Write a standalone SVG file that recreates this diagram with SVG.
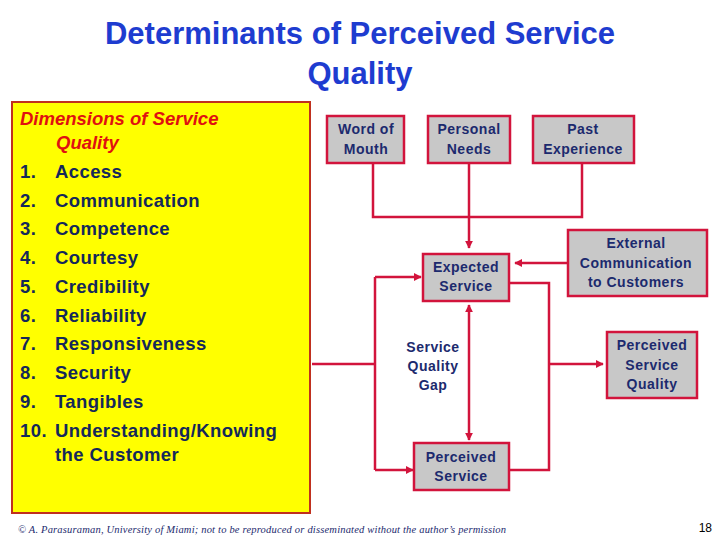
<svg xmlns="http://www.w3.org/2000/svg" width="720" height="540" viewBox="0 0 720 540">
<defs>
<style>
.box{fill:#c8c8c8;stroke:#d2143c;stroke-width:2.5}
.bt{font-family:"Liberation Sans",Arial,sans-serif;font-size:14px;font-weight:bold;fill:#1c2a6e;text-anchor:middle;letter-spacing:0.5px}
.ln{fill:none;stroke:#d2143c;stroke-width:2.5}
.li{font-family:"Liberation Sans",Arial,sans-serif;font-size:18.5px;font-weight:bold;fill:#14285a;letter-spacing:0.4px}
</style>
<marker id="ah" viewBox="0 0 10 10" refX="9" refY="5" markerWidth="3.2" markerHeight="3.2" orient="auto-start-reverse"><path d="M0,0L10,5L0,10z" fill="#d2143c"/></marker>
</defs>
<rect width="720" height="540" fill="#fff"/>
<g id="title" font-family="Liberation Sans,Arial,sans-serif" font-size="31" font-weight="bold" fill="#1e3cd0" text-anchor="middle">
<text x="360" y="44">Determinants of Perceived Service</text>
<text x="360" y="84">Quality</text>
</g>
<g id="dimensions">
<rect x="12" y="102" width="298" height="411" fill="#ffff00" stroke="#c0301e" stroke-width="2"/>
<text x="20" y="125" font-family="Liberation Sans,Arial,sans-serif" font-size="18.5" font-weight="bold" font-style="italic" fill="#e01010">Dimensions of Service</text>
<text x="56" y="149" font-family="Liberation Sans,Arial,sans-serif" font-size="18.5" font-weight="bold" font-style="italic" fill="#e01010">Quality</text>
<text class="li" x="20" y="178">1.</text><text class="li" x="55" y="178">Access</text>
<text class="li" x="20" y="207">2.</text><text class="li" x="55" y="207">Communication</text>
<text class="li" x="20" y="235">3.</text><text class="li" x="55" y="235">Competence</text>
<text class="li" x="20" y="264">4.</text><text class="li" x="55" y="264">Courtesy</text>
<text class="li" x="20" y="293">5.</text><text class="li" x="55" y="293">Credibility</text>
<text class="li" x="20" y="322">6.</text><text class="li" x="55" y="322">Reliability</text>
<text class="li" x="20" y="350">7.</text><text class="li" x="55" y="350">Responsiveness</text>
<text class="li" x="20" y="379">8.</text><text class="li" x="55" y="379">Security</text>
<text class="li" x="20" y="408">9.</text><text class="li" x="55" y="408">Tangibles</text>
<text class="li" x="20" y="437">10.</text><text class="li" x="55" y="437">Understanding/Knowing</text>
<text class="li" x="55" y="461">the Customer</text>
</g>
<g id="connectors">
<path class="ln" d="M373,163V217H582V163"/>
<path class="ln" d="M469,163V248" marker-end="url(#ah)"/>
<path class="ln" d="M568,263H515" marker-end="url(#ah)"/>
<path class="ln" d="M312,364H375"/>
<path class="ln" d="M375,277V470"/>
<path class="ln" d="M375,277H421" marker-end="url(#ah)"/>
<path class="ln" d="M375,470H413" marker-end="url(#ah)"/>
<path class="ln" d="M509,283H549V470H509"/>
<path class="ln" d="M549,364H603" marker-end="url(#ah)"/>
<path class="ln" d="M469,305V440" marker-start="url(#ah)" marker-end="url(#ah)"/>
</g>
<g id="word-of-mouth"><rect class="box" x="327" y="116" width="77" height="47"/><text class="bt" x="366" y="134">Word of</text><text class="bt" x="366" y="154">Mouth</text></g>
<g id="personal-needs"><rect class="box" x="428" y="116" width="82" height="47"/><text class="bt" x="469" y="134">Personal</text><text class="bt" x="469" y="154">Needs</text></g>
<g id="past-experience"><rect class="box" x="533" y="116" width="101" height="47"/><text class="bt" x="583" y="134">Past</text><text class="bt" x="583" y="154">Experience</text></g>
<g id="expected-service"><rect class="box" x="423" y="254" width="86" height="47"/><text class="bt" x="466" y="272">Expected</text><text class="bt" x="466" y="291">Service</text></g>
<g id="external-communication"><rect class="box" x="568" y="230" width="139" height="66"/><text class="bt" x="636" y="248">External</text><text class="bt" x="636" y="268">Communication</text><text class="bt" x="636" y="287">to Customers</text></g>
<g id="perceived-service-quality"><rect class="box" x="607" y="332" width="90" height="66"/><text class="bt" x="652" y="350">Perceived</text><text class="bt" x="652" y="370">Service</text><text class="bt" x="652" y="389">Quality</text></g>
<g id="perceived-service"><rect class="box" x="414" y="443" width="95" height="47"/><text class="bt" x="461" y="462">Perceived</text><text class="bt" x="461" y="481">Service</text></g>
<g id="gap-label"><text class="bt" x="433" y="352">Service</text><text class="bt" x="433" y="371">Quality</text><text class="bt" x="433" y="390">Gap</text></g>
<g id="footer">
<text x="18" y="533" font-family="Liberation Serif,serif" font-size="10.5" font-style="italic" fill="#1c2a6e" textLength="488" lengthAdjust="spacing">© A. Parasuraman, University of Miami; not to be reproduced or disseminated without the author’s permission</text>
<text x="712" y="532" font-family="Liberation Sans,Arial,sans-serif" font-size="12" fill="#000" text-anchor="end">18</text>
</g>
</svg>
